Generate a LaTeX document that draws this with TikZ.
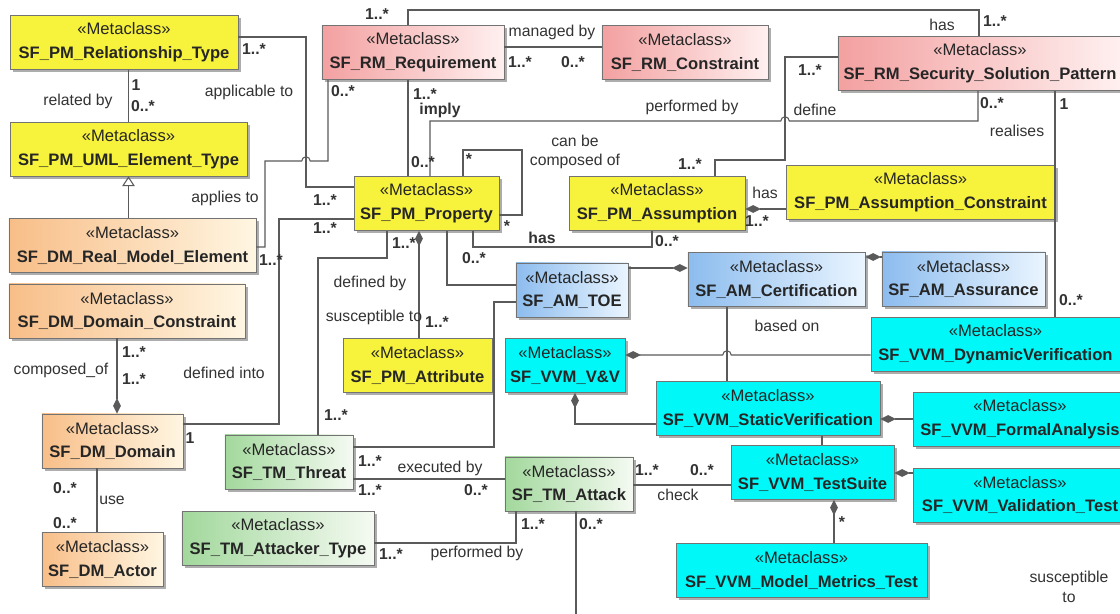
\documentclass[tikz,border=0pt]{standalone}
\usepackage{fontspec}
\setmainfont{Liberation Sans}
\usepackage{tikz}
\usetikzlibrary{positioning, arrows.meta, shadows}
\definecolor{PMYellow}{HTML}{F7F23C}
\definecolor{RMPink}{HTML}{F3A0A0}
\definecolor{RMPinkLight}{HTML}{FFF0F0}
\definecolor{DMOrange}{HTML}{F8BE88}
\definecolor{DMOrangeLight}{HTML}{FFF6E2}
\definecolor{AMBlue}{HTML}{8CBCEE}
\definecolor{AMBlueLight}{HTML}{EAF5FF}
\definecolor{TMGreen}{HTML}{A2D89C}
\definecolor{TMGreenLight}{HTML}{F5FAF2}
\definecolor{VVMCyan}{HTML}{00F8F8}
\definecolor{LineGrey}{HTML}{5A5A5A}
\newcommand{\mcfont}{\fontsize{11.8}{17}\selectfont}
\newcommand{\lblfont}{\fontsize{11.2}{13}\selectfont}
\newcommand{\metacl}[1]{«Metaclass»\\\textbf{#1}}

\begin{document}
\begin{tikzpicture}[
				x=0.025cm, y=-0.025cm,
				mclass/.style={
					draw=black!55,
					line width=0.5pt,
					align=center,
					minimum height=1.35cm,
					inner sep=1pt,
					font=\mcfont,
					text=black!85,
					drop shadow={shadow xshift=1.8pt, shadow yshift=-1.8pt, fill=black!40, opacity=0.8}
				},
				ybox/.style={mclass, fill=PMYellow},
				rbox/.style={mclass, left color=RMPink, right color=RMPinkLight},
				obox/.style={mclass, left color=DMOrange, right color=DMOrangeLight},
				bbox/.style={mclass, left color=AMBlue, right color=AMBlueLight},
				gbox/.style={mclass, left color=TMGreen, right color=TMGreenLight},
				cbox/.style={mclass, fill=VVMCyan},
				lbl/.style={font=\lblfont, text=black!80, inner sep=0pt, align=center},
				mult/.style={lbl, font=\lblfont\bfseries},
				assoc/.style={draw=LineGrey, line width=0.75pt},
				comp/.style={assoc, -{Diamond[length=11pt, width=5.5pt]}},
				gen/.style={assoc, -{Triangle[open, length=7pt, width=9pt]}}
				]
				\useasboundingbox (0,0) rectangle (1120,613);
				\fill[white] (0,0) rectangle (1120,613);

				\node[ybox, minimum width=5.7cm] (reltype) at (124,42.5) {\metacl{SF\_PM\_Relationship\_Type}};
				\node[ybox, minimum width=5.925cm] (umltype) at (128.5,149) {\metacl{SF\_PM\_UML\_Element\_Type}};
				\node[obox, minimum width=6.175cm] (realelem) at (132.5,245.5) {\metacl{SF\_DM\_Real\_Model\_Element}};
				\node[obox, minimum width=5.9cm] (domcons) at (127,311) {\metacl{SF\_DM\_Domain\_Constraint}};
				\node[obox, minimum width=3.525cm] (domain) at (112.5,441) {\metacl{SF\_DM\_Domain}};
				\node[obox, minimum width=3.025cm] (actor) at (102.5,559.5) {\metacl{SF\_DM\_Actor}};
				\node[rbox, minimum width=4.55cm] (req) at (413,52.5) {\metacl{SF\_RM\_Requirement}};
				\node[rbox, minimum width=4.15cm] (rmcons) at (685,52.5) {\metacl{SF\_RM\_Constraint}};
				\node[rbox, minimum width=7.1cm] (pattern) at (980,63.5) {\metacl{SF\_RM\_Security\_Solution\_Pattern}};
				\node[ybox, minimum width=3.625cm] (prop) at (426.5,203.5) {\metacl{SF\_PM\_Property}};
				\node[ybox, minimum width=4.4cm] (assum) at (657,203.5) {\metacl{SF\_PM\_Assumption}};
				\node[ybox, minimum width=6.725cm] (assumcons) at (920.5,192) {\metacl{SF\_PM\_Assumption\_Constraint}};
				\node[bbox, minimum width=2.8cm] (toe) at (572,290) {\metacl{SF\_AM\_TOE}};
				\node[bbox, minimum width=4.425cm] (cert) at (776.5,279.5) {\metacl{SF\_AM\_Certification}};
				\node[bbox, minimum width=4.075cm] (assur) at (963.5,279) {\metacl{SF\_AM\_Assurance}};
				\node[ybox, minimum width=3.725cm] (attr) at (417.5,365.5) {\metacl{SF\_PM\_Attribute}};
				\node[cbox, minimum width=3cm] (vv) at (565,365.5) {\metacl{SF\_VVM\_V\&V}};
				\node[cbox, minimum width=6.225cm] (dynver) at (995.5,344) {\metacl{SF\_VVM\_DynamicVerification}};
				\node[cbox, minimum width=5.6cm] (statver) at (768,408.5) {\metacl{SF\_VVM\_StaticVerification}};
				\node[cbox, minimum width=5.35cm] (formal) at (1020,419) {\metacl{SF\_VVM\_FormalAnalysis}};
				\node[cbox, minimum width=4.075cm] (suite) at (812.5,472.5) {\metacl{SF\_VVM\_TestSuite}};
				\node[cbox, minimum width=5.35cm] (valid) at (1020,495) {\metacl{SF\_VVM\_Validation\_Test}};
				\node[cbox, minimum width=6.275cm] (metrics) at (801.5,570.5) {\metacl{SF\_VVM\_Model\_Metrics\_Test}};
				\node[gbox, minimum width=3.2cm] (threat) at (289,462) {\metacl{SF\_TM\_Threat}};
				\node[gbox, minimum width=4.8cm] (attacker) at (278,538.5) {\metacl{SF\_TM\_Attacker\_Type}};
				\node[gbox, minimum width=3.2cm] (attack) at (569,484) {\metacl{SF\_TM\_Attack}};
				\coordinate (attackend) at (576,616);

				\draw[assoc] (umltype.north |- reltype.south) -- (umltype.north);
				\draw[gen] (umltype.south |- realelem.north) -- (umltype.south);
				\draw[assoc] (reltype.east |- 0,37) -| (306,187) -- (prop.west |- 0,187);
				\draw[assoc] (req.south -| 328,0) -- (328,161) -- (310.2,161) arc[start angle=0, end angle=180, radius=3pt] -- (265,161) |- (realelem.east |- 0,247);
				\draw[assoc] (domain.east |- 0,424) -| (279,219) -- (prop.west |- 0,219);
				\draw[assoc] (req.south -| 408,0) -- (prop.north -| 408,0);
				\draw[assoc] (req.north -| 408,0) -- (408,10) -| (pattern.north -| 979,0);
				\draw[assoc] (req.east |- 0,47) -- (rmcons.west |- 0,47);
				\draw[assoc] (pattern.west |- 0,57) -| (785,160) -| (assum.north -| 715,0);
				\draw[assoc] (prop.north -| 430,0) |- (780.8,121) arc[start angle=180, end angle=0, radius=3pt] -| (pattern.south -| 978,0);
				\draw[assoc] (pattern.south -| 1055,0) -- (dynver.north -| 1055,0);
				\draw[assoc] (prop.north -| 463,0) |- (522,150) |- (prop.east |- 0,215);
				\draw[assoc] (prop.south -| 473,0) |- (652,247) -- (assum.south -| 652,0);
				\draw[assoc] (prop.south -| 447,0) |- (toe.west |- 0,285);
				\draw[comp] (attr.north -| 419,0) -- (prop.south -| 419,0);
				\draw[assoc] (prop.south -| 387,0) |- (318,258) -- (threat.north -| 318,0);
				\draw[assoc] (toe.west |- 0,302) -| (494,447) -- (threat.east |- 0,447);
				\draw[comp] (assumcons.west |- 0,209) -- (assum.east |- 0,209);
				\draw[comp] (toe.east |- 0,268) -- (cert.west |- 0,268);
				\draw[comp] (assur.west |- 0,257) -- (cert.east |- 0,257);
				\draw[assoc] (cert.south -| 727,0) -- (statver.north -| 727,0);
				\draw[comp] (dynver.west |- 0,355) -- (731.2,355) arc[start angle=0, end angle=180, radius=3pt] -- (vv.east |- 0,355);
				\draw[comp] (statver.west |- 0,424) -| (vv.south -| 575,0);
				\draw[comp] (formal.west |- 0,419) -- (statver.east |- 0,419);
				\draw[assoc] (statver.south -| 822,0) -- (suite.north -| 822,0);
				\draw[comp] (valid.west |- 0,473) -- (suite.east |- 0,473);
				\draw[comp] (metrics.north -| 834,0) -- (suite.south -| 834,0);
				\draw[assoc] (attack.east |- 0,485) -- (suite.west |- 0,485);
				\draw[assoc] (threat.east |- 0,479) -- (attack.west |- 0,479);
				\draw[assoc] (attacker.east |- 0,543) -| (attack.south -| 516,0);
				\draw[assoc] (attack.south -| 576,0) -- (attackend);
				\draw[comp] (domcons.south -| 117,0) -- (domain.north -| 117,0);
				\draw[assoc] (domain.south -| 97,0) -- (actor.north -| 97,0);

				\node[mult] (lrel1) at (136,85) {1};
				\node[mult] (lrel2) at (143,106) {0..*};
				\node[lbl] (lrelby) at (78,101) {related by};
				\node[mult] (lapp1) at (254,49) {1..*};
				\node[lbl] (lappto) at (249,92) {applicable to};
				\node[mult] (lapp2) at (325,200) {1..*};
				\node[mult] (lreq0) at (343,91) {0..*};
				\node[lbl] (lappl) at (225,198) {applies to};
				\node[mult] (lappl2) at (271,260) {1..*};
				\node[mult] (ldin1) at (325,228) {1..*};
				\node[lbl] (ldin) at (224,373) {defined into};
				\node[mult] (ldin2) at (190,438) {1};
				\node[lbl] (lcomp) at (61,370) {composed\_of};
				\node[mult] (lcomp1) at (134,352) {1..*};
				\node[mult] (lcomp2) at (134,379) {1..*};
				\node[mult] (luse1) at (65,488) {0..*};
				\node[lbl] (luse) at (112,500) {use};
				\node[mult] (luse2) at (65,523) {0..*};
				\node[mult] (ldefb2) at (336,415) {1..*};
				\node[mult] (ltoe2) at (370,461) {1..*};
				\node[lbl] (lexec) at (440,468) {executed by};
				\node[mult] (lexec1) at (370,490) {1..*};
				\node[mult] (lexec2) at (476,490) {0..*};
				\node[mult] (lchk1) at (647,470) {1..*};
				\node[mult] (lchk2) at (702,470) {0..*};
				\node[lbl] (lchk) at (678,495) {check};
				\node[mult] (lperf1) at (533,524) {1..*};
				\node[mult] (lsus2) at (591,524) {0..*};
				\node[mult] (lperf2) at (391,554) {1..*};
				\node[lbl] (lperf) at (477,553) {performed by};
				\node[mult] (lmet) at (842,522) {*};
				\node[lbl, font=\fontsize{11.2}{14}\selectfont] (lsus) at (1069,587) {susceptible\\to};
				\node[lbl] (lbase) at (787,326) {based on};
				\node[mult] (lreal2) at (1071,300) {0..*};
				\node[lbl] (lreal) at (1017,131) {realises};
				\node[mult] (lreal1) at (1064,104) {1};
				\node[mult] (lperfu2) at (992,103) {0..*};
				\node[lbl] (ldef) at (815,110) {define};
				\node[mult] (ldef1) at (810,70) {1..*};
				\node[lbl] (lhas) at (942,25) {has};
				\node[mult] (lhas2) at (995,21) {1..*};
				\node[mult] (lhas1) at (377,14) {1..*};
				\node[lbl] (lman) at (552,32) {managed by};
				\node[mult] (lman1) at (520,62) {1..*};
				\node[mult] (lman2) at (573,62) {0..*};
				\node[mult] (limp1) at (425,94) {1..*};
				\node[mult] (limp) at (440,110) {imply};
				\node[lbl] (lperfu) at (692,107) {performed by};
				\node[mult] (limp2) at (423,162) {0..*};
				\node[mult] (lself1) at (469,159) {*};
				\node[lbl, font=\fontsize{11.2}{13}\selectfont] (lcan) at (575,152) {can be\\composed of};
				\node[mult] (ldef2) at (690,164) {1..*};
				\node[mult] (lself2) at (507,226) {*};
				\node[mult] (lhasb) at (542,238) {has};
				\node[mult] (lhasb2) at (667,241) {0..*};
				\node[mult] (lattr1) at (404,243) {1..*};
				\node[mult] (ltoe1) at (474,258) {0..*};
				\node[lbl] (ldefby) at (370,283) {defined by};
				\node[lbl] (lsust) at (374,317) {susceptible to};
				\node[mult] (lsust2) at (437,322) {1..*};
				\node[lbl] (lhasc) at (765,193) {has};
				\node[mult] (lhasc2) at (757,221) {1..*};
			\end{tikzpicture}
\end{document}
